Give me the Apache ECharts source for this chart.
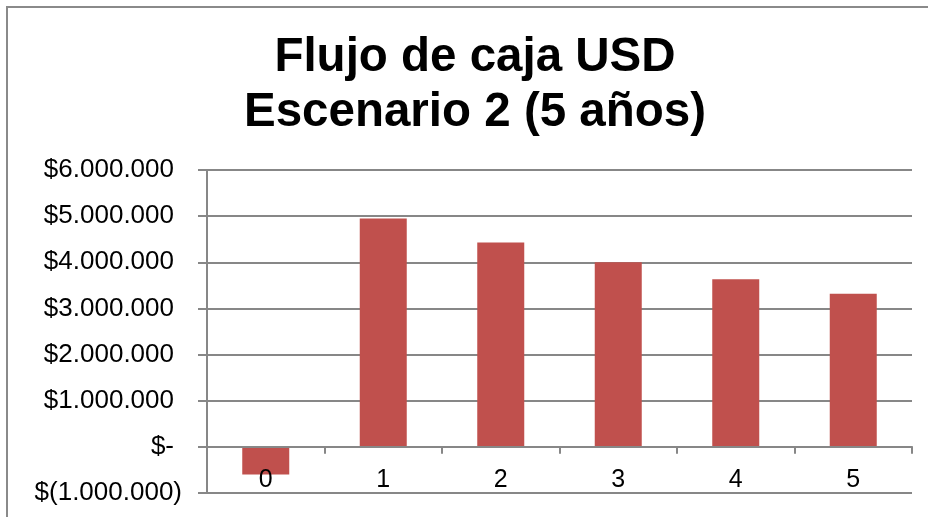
<!DOCTYPE html>
<html>
<head>
<meta charset="utf-8">
<script src="https://cdn.jsdelivr.net/npm/echarts@6/dist/echarts.min.js"></script>
<style>
  html, body { margin: 0; padding: 0; background: #fff; }
  #chart { width: 928px; height: 517px; }
</style>
</head>
<body>
<div id="chart"></div>
<script>
// Cash flow per year (USD), scenario 2, five-year horizon
const years = ['0', '1', '2', '3', '4', '5'];
const cashFlow = [-600000, 4950000, 4430000, 4000000, 3630000, 3320000];
const titleLines = ['Flujo de caja USD', 'Escenario 2 (5 años)'];

const yMin = -1000000;
const yMax = 6000000;
const yStep = 1000000;

const FONT = '"Liberation Sans", Arial, sans-serif';
const GRID_COLOR = '#878787';

// Accounting-style currency label: $1.000.000, $-, $(1.000.000)
function money(v) {
  const abs = Math.abs(v).toString().replace(/\B(?=(\d{3})+(?!\d))/g, '.');
  if (v === 0) return '{pos|$-}';
  if (v < 0) return '{neg|$(' + abs + ')}';
  return '{pos|$' + abs + '}';
}

const chart = echarts.init(document.getElementById('chart'));
chart.setOption({
  animation: false,
  backgroundColor: '#ffffff',
  title: {
    text: titleLines.join('\n'),
    left: 470,
    top: 25,
    textAlign: 'center',
    textStyle: {
      fontFamily: FONT,
      fontSize: 47.5,
      fontWeight: 'bold',
      color: '#000',
      lineHeight: 55
    }
  },
  graphic: [{
    type: 'rect',
    shape: { x: 7, y: 7, width: 940, height: 540 },
    style: { fill: 'none', stroke: '#8a8a8a', lineWidth: 2 },
    silent: true,
    z: -1
  }],
  grid: {
    left: 207, right: 16, top: 170, bottom: 24,
    containLabel: false,
    outerBoundsMode: 'none'
  },
  xAxis: {
    type: 'category',
    data: years,
    boundaryGap: true,
    z: 5,
    axisLine: { onZero: true, lineStyle: { color: GRID_COLOR, width: 2 } },
    axisTick: { show: true, length: 7, lineStyle: { color: GRID_COLOR, width: 2 } },
    // category labels sit just under the zero line, above the bottom gridline
    axisLabel: { fontFamily: FONT, fontSize: 25, color: '#000', margin: -25 },
    splitLine: { show: false }
  },
  yAxis: {
    type: 'value',
    min: yMin,
    max: yMax,
    interval: yStep,
    axisLine: { show: true, lineStyle: { color: GRID_COLOR, width: 2 } },
    axisTick: { show: true, length: 9, lineStyle: { color: GRID_COLOR, width: 2 } },
    axisLabel: {
      margin: 25,
      formatter: money,
      rich: {
        pos: { fontFamily: FONT, fontSize: 26, color: '#000', padding: [0, 8, 0, 0] },
        neg: { fontFamily: FONT, fontSize: 26, color: '#000' }
      }
    },
    splitLine: { show: true, lineStyle: { color: GRID_COLOR, width: 2 } }
  },
  series: [{
    type: 'bar',
    data: cashFlow,
    barWidth: 47,
    itemStyle: { color: '#C0504D' },
    z: 1
  }]
});
</script>
</body>
</html>
